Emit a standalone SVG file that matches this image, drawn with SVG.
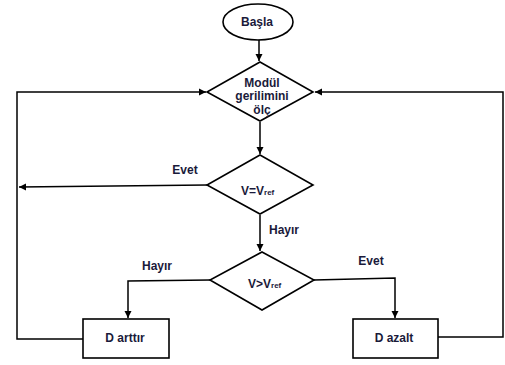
<svg xmlns="http://www.w3.org/2000/svg" width="505" height="365" viewBox="0 0 505 365">
<defs>
<marker id="ah" markerWidth="8" markerHeight="8" refX="7" refY="4" orient="auto" markerUnits="userSpaceOnUse">
<path d="M0,0.5 L7,4 L0,7.5 Z" fill="#000"/>
</marker>
</defs>
<style>
.shape{fill:#fff;stroke:#000;stroke-width:1.6}
.conn{fill:none;stroke:#000;stroke-width:1.5}
text{font-family:"Liberation Sans",Arial,sans-serif;font-weight:bold;font-size:12px;fill:#1a1a3a}
.c{text-anchor:middle}
.sub{font-size:8px}
</style>
<rect width="505" height="365" fill="#fff"/>
<g id="connectors">
<line class="conn" x1="259" y1="40" x2="259" y2="61" marker-end="url(#ah)"/>
<line class="conn" x1="260" y1="122" x2="260" y2="154" marker-end="url(#ah)"/>
<line class="conn" x1="260" y1="215" x2="260" y2="251" marker-end="url(#ah)"/>
<polyline class="conn" points="207,185 19,187" marker-end="url(#ah)"/>
<polyline class="conn" points="210,280 128,281 128,318" marker-end="url(#ah)"/>
<polyline class="conn" points="314,280 395,278 395,318" marker-end="url(#ah)"/>
<polyline class="conn" points="83,339 17,339 17,92 206,92" marker-end="url(#ah)"/>
<polyline class="conn" points="438,337 503,337 503,92 315,92" marker-end="url(#ah)"/>
<text x="185" y="174" class="c">Evet</text>
<text x="269" y="234">Hayır</text>
<text x="157" y="270" class="c">Hayır</text>
<text x="371" y="265" class="c">Evet</text>
</g>
<g id="start">
<ellipse class="shape" cx="258" cy="22" rx="35" ry="18"/>
<text x="257" y="26" class="c">Başla</text>
</g>
<g id="measure">
<polygon class="shape" points="260,62 313,92 260,121 207,92"/>
<text x="262" y="87" class="c">Modül</text>
<text x="262" y="100" class="c">gerilimini</text>
<text x="262" y="114" class="c">ölç</text>
</g>
<g id="decision-eq">
<polygon class="shape" points="260,155 313,185 260,214 207,185"/>
<text x="241" y="195">V=V<tspan class="sub">ref</tspan></text>
</g>
<g id="decision-gt">
<polygon class="shape" points="262,252 314,280 262,310 210,280"/>
<text x="248" y="288">V&gt;V<tspan class="sub">ref</tspan></text>
</g>
<g id="increase">
<rect class="shape" x="83" y="319" width="86" height="39"/>
<text x="125" y="342" class="c">D arttır</text>
</g>
<g id="decrease">
<rect class="shape" x="353" y="319" width="85" height="39"/>
<text x="394" y="342" class="c">D azalt</text>
</g>
</svg>
